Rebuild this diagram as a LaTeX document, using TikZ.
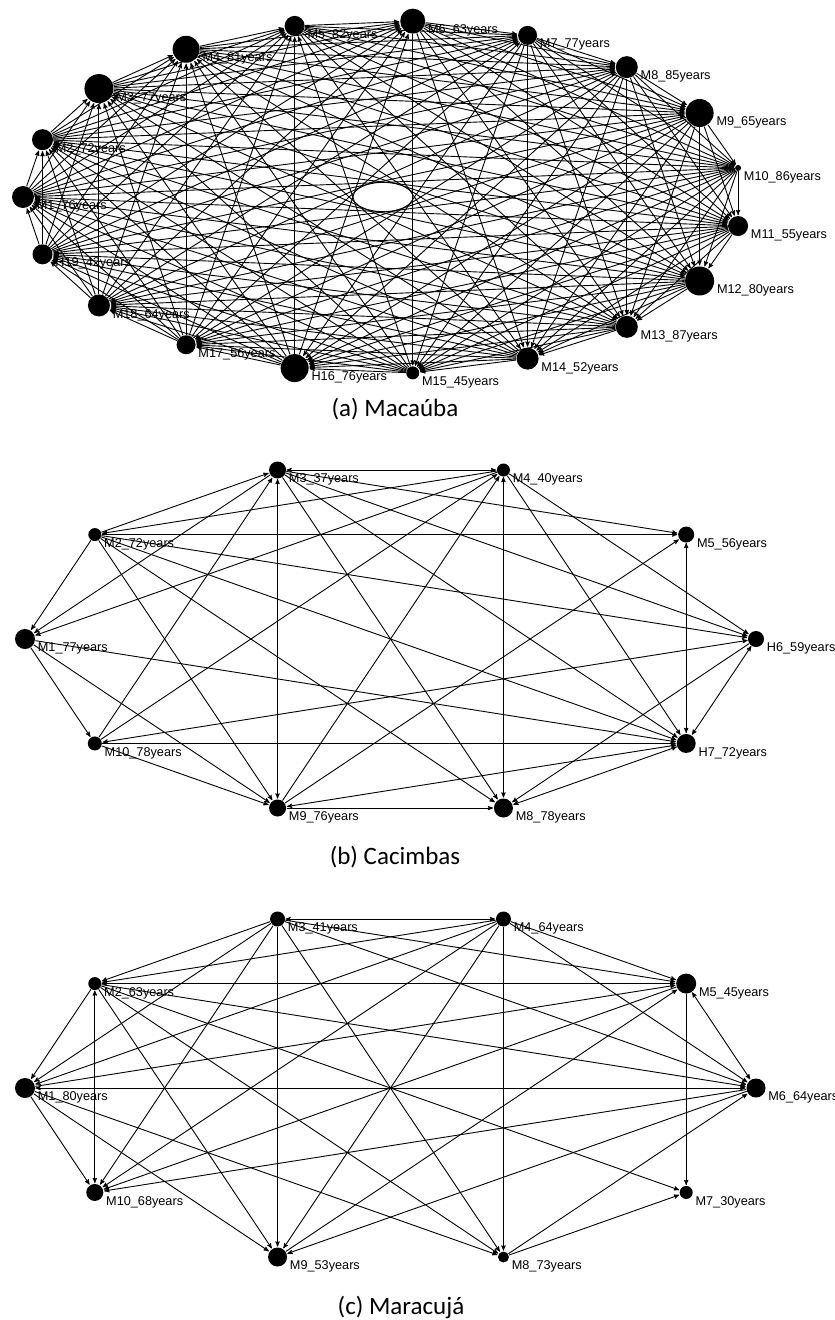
\documentclass[tikz,border=0pt]{standalone}
\usepackage{fontspec}
\setmainfont{Liberation Sans}
\newfontfamily\capfont{Carlito}
\usetikzlibrary{arrows,backgrounds}

\begin{document}
\begin{tikzpicture}[x=1pt,y=1pt,->,>=stealth',shorten >=0.5pt,line width=0.9pt,
  every on background layer/.style={line width=0.9pt}]
\tikzstyle{every label}=[font=\fontsize{12.7}{14}\selectfont,label distance=1.5pt,inner sep=0.5pt,yshift=-9.5pt]
\tikzstyle{vtx}=[circle,fill=black,inner sep=0pt]
\tikzstyle{links}=[on background layer]
\tikzstyle{captxt}=[font=\capfont\fontsize{25}{30}\selectfont]
\useasboundingbox (0,-1320) rectangle (835,0);

% (a) Macauba
\begin{scope}[shift={(383,-197)}]
\node[vtx,minimum size=22pt,label=0:M1\_76years] (a1) at (180:360 and 176.5) {};
\node[vtx,minimum size=21pt,label=0:M2\_72years] (a2) at (161.05:360 and 176.5) {};
\node[vtx,minimum size=29pt,label=0:M3\_77years] (a3) at (142.1:360 and 176.5) {};
\node[vtx,minimum size=27pt,label=0:M4\_81years] (a4) at (123.16:360 and 176.5) {};
\node[vtx,minimum size=20pt,label=0:M5\_82years] (a5) at (104.21:360 and 176.5) {};
\node[vtx,minimum size=25pt,label=0:M6\_63years] (a6) at (85.26:360 and 176.5) {};
\node[vtx,minimum size=19pt,label=0:M7\_77years] (a7) at (66.32:360 and 176.5) {};
\node[vtx,minimum size=22pt,label=0:M8\_85years] (a8) at (47.37:360 and 176.5) {};
\node[vtx,minimum size=28pt,label=0:M9\_65years] (a9) at (28.42:360 and 176.5) {};
\node[vtx,minimum size=6pt,label=0:M10\_86years] (a10) at (9.47:360 and 176.5) {};
\node[vtx,minimum size=20pt,label=0:M11\_55years] (a11) at (-9.47:360 and 176.5) {};
\node[vtx,minimum size=29pt,label=0:M12\_80years] (a12) at (-28.42:360 and 176.5) {};
\node[vtx,minimum size=22pt,label=0:M13\_87years] (a13) at (-47.37:360 and 176.5) {};
\node[vtx,minimum size=22pt,label=0:M14\_52years] (a14) at (-66.32:360 and 176.5) {};
\node[vtx,minimum size=13pt,label=0:M15\_45years] (a15) at (-85.26:360 and 176.5) {};
\node[vtx,minimum size=28pt,label=0:H16\_76years] (a16) at (-104.21:360 and 176.5) {};
\node[vtx,minimum size=19pt,label=0:M17\_56years] (a17) at (-123.16:360 and 176.5) {};
\node[vtx,minimum size=22pt,label=0:M18\_64years] (a18) at (-142.1:360 and 176.5) {};
\node[vtx,minimum size=20pt,label=0:H19\_42years] (a19) at (-161.05:360 and 176.5) {};
\end{scope}
\begin{scope}[links]
\foreach \i in {1,...,18}{
  \pgfmathtruncatemacro\k{\i+1}
  \foreach \j in {\k,...,19}{
    \pgfmathtruncatemacro\d{\j-\i}
    \ifnum\d<10 \draw (a\i) -- (a\j); \else \draw (a\j) -- (a\i); \fi
  }
}
\end{scope}
\node[captxt] (capa) at (395,-409) {(a) Macaúba};

% (b) Cacimbas
\begin{scope}[shift={(390.5,-639)}]
\node[vtx,minimum size=20pt,label=0:M1\_77years] (b1) at (180:365.5 and 177.7) {};
\node[vtx,minimum size=13pt,label=0:M2\_72years] (b2) at (144:365.5 and 177.7) {};
\node[vtx,minimum size=17pt,label=0:M3\_37years] (b3) at (108:365.5 and 177.7) {};
\node[vtx,minimum size=13pt,label=0:M4\_40years] (b4) at (72:365.5 and 177.7) {};
\node[vtx,minimum size=16pt,label=0:M5\_56years] (b5) at (36:365.5 and 177.7) {};
\node[vtx,minimum size=16pt,label=0:H6\_59years] (b6) at (0:365.5 and 177.7) {};
\node[vtx,minimum size=19pt,label=0:H7\_72years] (b7) at (-36:365.5 and 177.7) {};
\node[vtx,minimum size=19pt,label=0:M8\_78years] (b8) at (-72:365.5 and 177.7) {};
\node[vtx,minimum size=17pt,label=0:M9\_76years] (b9) at (-108:365.5 and 177.7) {};
\node[vtx,minimum size=14pt,label=0:M10\_78years] (b10) at (-144:365.5 and 177.7) {};
\end{scope}
\begin{scope}[links]
\path (b2) edge (b1) edge (b3) edge (b5) edge (b9) edge (b8) edge (b7) edge (b6)
      (b3) edge (b1) edge[<->] (b4) edge (b5) edge (b6) edge (b7) edge (b8) edge[<->] (b9)
      (b4) edge (b1) edge (b2) edge[<->] (b8) edge (b6) edge (b7)
      (b1) edge (b10) edge (b9) edge (b7)
      (b5) edge[<->] (b7)
      (b6) edge[<->] (b7) edge (b8) edge[<->] (b10)
      (b7) edge[<->] (b8) edge[<->] (b9)
      (b9) edge (b4) edge (b5) edge (b8)
      (b10) edge (b3) edge (b4) edge (b7) edge (b9);
\end{scope}
\node[captxt] (capb) at (395,-857) {(b) Cacimbas};

% (c) Maracuja
\begin{scope}[shift={(390.5,-1088)}]
\node[vtx,minimum size=20pt,label=0:M1\_80years] (c1) at (180:365.5 and 177.7) {};
\node[vtx,minimum size=13pt,label=0:M2\_63years] (c2) at (144:365.5 and 177.7) {};
\node[vtx,minimum size=15pt,label=0:M3\_41years] (c3) at (108:365.5 and 177.7) {};
\node[vtx,minimum size=15pt,label=0:M4\_64years] (c4) at (72:365.5 and 177.7) {};
\node[vtx,minimum size=20pt,label=0:M5\_45years] (c5) at (36:365.5 and 177.7) {};
\node[vtx,minimum size=19pt,label=0:M6\_64years] (c6) at (0:365.5 and 177.7) {};
\node[vtx,minimum size=13pt,label=0:M7\_30years] (c7) at (-36:365.5 and 177.7) {};
\node[vtx,minimum size=11pt,label=0:M8\_73years] (c8) at (-72:365.5 and 177.7) {};
\node[vtx,minimum size=19pt,label=0:M9\_53years] (c9) at (-108:365.5 and 177.7) {};
\node[vtx,minimum size=17pt,label=0:M10\_68years] (c10) at (-144:365.5 and 177.7) {};
\end{scope}
\begin{scope}[links]
\path (c1) edge[<->] (c6) edge (c10) edge (c9) edge (c8) edge (c5)
      (c2) edge (c1) edge[<->] (c5) edge[<->] (c10) edge (c9) edge (c8) edge (c7) edge (c6)
      (c3) edge (c1) edge (c2) edge[<->] (c4) edge (c5) edge (c6) edge (c8) edge (c9) edge (c10)
      (c4) edge (c1) edge (c2) edge (c5) edge (c6) edge (c8) edge (c9) edge (c10)
      (c5) edge[<->] (c6) edge (c7) edge (c10)
      (c6) edge (c10) edge (c9)
      (c8) edge (c6) edge (c7)
      (c9) edge (c5);
\end{scope}
\node[captxt] (capc) at (401,-1307) {(c) Maracujá};
\end{tikzpicture}
\end{document}
